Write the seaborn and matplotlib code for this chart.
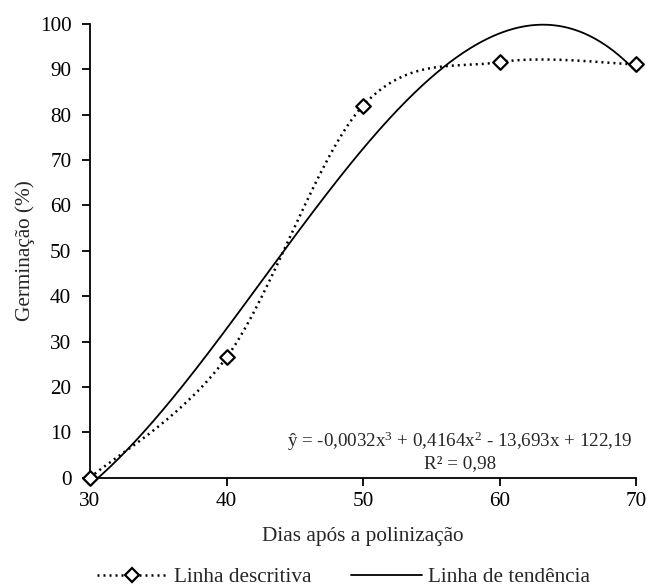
import numpy as np
import pandas as pd
import matplotlib
matplotlib.use("Agg")
import matplotlib.pyplot as plt
from matplotlib.lines import Line2D
import seaborn as sns

# Germination (%) by days after pollination
dias = [30, 40, 50, 60, 70]
germinacao = [0.0, 26.5, 82.0, 91.6, 91.1]
x_ticks = [30, 40, 50, 60, 70]
y_ticks = [0, 10, 20, 30, 40, 50, 60, 70, 80, 90, 100]
equacao = "ŷ = -0,0032x$^{3}$ + 0,4164x$^{2}$ - 13,693x + 122,19"
r2_texto = "R² = 0,98"
rotulo_x = "Dias após a polinização"
rotulo_y = "Germinação (%)"
legenda = ["Linha descritiva", "Linha de tendência"]

sns.set_theme(style="ticks")
plt.rcParams["font.family"] = ["Liberation Serif", "DejaVu Serif"]
plt.rcParams["mathtext.fontset"] = "custom"
plt.rcParams["mathtext.rm"] = "Liberation Serif"
plt.rcParams["mathtext.it"] = "Liberation Serif"
plt.rcParams["mathtext.default"] = "regular"

FS = 15.3


def catmull_rom(xs, ys, n=60):
    """Smoothed line through the points (Catmull-Rom / Bezier smoothing)."""
    pts = np.column_stack([xs, ys]).astype(float)
    ext = np.vstack([pts[0], pts, pts[-1]])
    out = []
    t = np.linspace(0, 1, n)[:, None]
    for i in range(1, len(ext) - 2):
        p0, p1, p2, p3 = ext[i - 1], ext[i], ext[i + 1], ext[i + 2]
        c1 = p1 + (p2 - p0) / 6
        c2 = p2 - (p3 - p1) / 6
        seg = ((1 - t) ** 3 * p1 + 3 * (1 - t) ** 2 * t * c1
               + 3 * (1 - t) * t ** 2 * c2 + t ** 3 * p2)
        out.append(seg if i == 1 else seg[1:])
    s = np.vstack(out)
    return s[:, 0], s[:, 1]


sx, sy = catmull_rom(dias, germinacao)
suave = pd.DataFrame({"x": sx, "y": sy})

coef = np.polyfit(dias, germinacao, 3)
xt = np.linspace(30, 70, 400)
tendencia = pd.DataFrame({"x": xt, "y": np.polyval(coef, xt)})
pontos = pd.DataFrame({"x": dias, "y": germinacao})

fig = plt.figure(figsize=(6.48, 5.87), dpi=100)
ax = fig.add_axes([90 / 648, 1 - 477.7 / 587, (636 - 90) / 648, (477.7 - 24) / 587])

sns.lineplot(data=tendencia, x="x", y="y", ax=ax, color="black", lw=1.3,
             sort=False, clip_on=False)
sns.lineplot(data=suave, x="x", y="y", ax=ax, color="black", lw=1.8,
             linestyle=(0, (0.8, 1.6)), sort=False, clip_on=False)
sns.scatterplot(data=pontos, x="x", y="y", ax=ax, marker="D", s=55,
                facecolor="white", edgecolor="black", linewidth=1.6,
                zorder=5, clip_on=False)

ax.set_xlim(30, 70)
ax.set_ylim(0, 100)
ax.set_xticks(x_ticks)
ax.set_yticks(y_ticks)
ax.tick_params(direction="out", length=5.5, width=1.3, labelsize=FS,
               colors="black")
ax.tick_params(axis="y", pad=8)
ax.tick_params(axis="x", pad=5)
for side in ["top", "right"]:
    ax.spines[side].set_visible(False)
for side in ["left", "bottom"]:
    ax.spines[side].set_linewidth(1.3)
    ax.spines[side].set_color("black")

ax.set_xlabel(rotulo_x, fontsize=FS, labelpad=11)
ax.set_ylabel(rotulo_y, fontsize=FS, labelpad=3)

fig.text(460 / 648, 1 - 441 / 587, equacao, ha="center", va="center",
         fontsize=13.7)
fig.text(460 / 648, 1 - 464 / 587, r2_texto, ha="center", va="center",
         fontsize=13.7)

handles = [
    Line2D([], [], color="black", lw=1.8, linestyle=(0, (0.8, 1.6)), marker="D",
           markersize=7, markerfacecolor="white", markeredgecolor="black",
           markeredgewidth=1.6),
    Line2D([], [], color="black", lw=1.3),
]
fig.legend(handles, legenda, loc="center left",
           bbox_to_anchor=(97 / 648, 1 - 577 / 587),
           ncol=2, frameon=False, fontsize=FS, handlelength=3.3, numpoints=1,
           columnspacing=1.9, handletextpad=0.3, borderpad=0, borderaxespad=0)

fig.savefig("out.png", dpi=100)
